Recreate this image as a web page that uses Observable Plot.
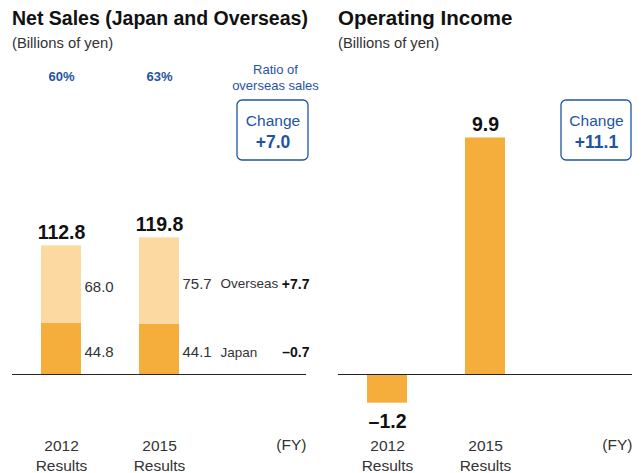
<!DOCTYPE html>
<html><head><meta charset="utf-8">
<script src="https://cdn.jsdelivr.net/npm/d3@7"></script>
<script src="https://cdn.jsdelivr.net/npm/@observablehq/plot@0.6"></script>
<style>
body{margin:0;background:#fff;font-family:"Liberation Sans",Arial,sans-serif;}
#wrap{position:relative;width:643px;height:473px;overflow:hidden}
.title{position:absolute;top:8px;font-size:19.5px;line-height:20px;font-weight:bold;color:#111;white-space:nowrap}
.sub{position:absolute;top:36px;font-size:14.8px;line-height:14px;color:#333;white-space:nowrap}
#left,#right{position:absolute;top:55px}
#left{left:0}#right{left:326px}
</style></head><body>
<div id="wrap">
<div class="title" style="left:12px">Net Sales (Japan and Overseas)</div>
<div class="sub" style="left:12px">(Billions of yen)</div>
<div class="title" style="left:338px;font-size:20.5px">Operating Income</div>
<div class="sub" style="left:338px">(Billions of yen)</div>
<div id="left"></div><div id="right"></div>
</div>
<script>
// ---- data ----
const years = ["2012", "2015"];
const yearLabels = ["2012\nResults", "2015\nResults"];
const segmentNames = ["Japan", "Overseas"];
const japanSales = [44.8, 44.1];
const overseasSales = [68.0, 75.7];
const totalSales = [112.8, 119.8];
const overseasRatio = [60, 63];
const segmentChange = [-0.7, 7.7];
const salesChange = 7.0;
const operatingIncome = [-1.2, 9.9];
const incomeChange = 11.1;

// ---- helpers ----
const CH = "change";
const blue = "#1f54a3";
const font = '"Liberation Sans", Arial, sans-serif';
const fmt = v => (v < 0 ? "\u2013" : "") + Math.abs(v).toFixed(1);
const signed = v => (v < 0 ? "\u2013" : "+") + Math.abs(v).toFixed(1);
const xScale = {domain: [...years, CH], paddingInner: 0.59, paddingOuter: 0.295, align: 0.5, axis: null};
const xAxis = Plot.axisX({ticks: years, tickSize: 0, tickPadding: 13, label: null,
  tickFormat: d => yearLabels[years.indexOf(d)], fontSize: 15.5, lineHeight: 1.3, fill: "#333"});

const salesRows = [];
years.forEach((y, i) => {
  salesRows.push({year: y, segment: "Japan", value: japanSales[i]});
  salesRows.push({year: y, segment: "Overseas", value: overseasSales[i]});
});
const totals = years.map((y, i) => ({year: y, total: totalSales[i], ratio: overseasRatio[i]}));
const latestRows = segmentNames.map((s, i) => ({segment: s, value: i === 0 ? japanSales[1] : overseasSales[1], change: segmentChange[i]}));
const incomeRows = years.map((y, i) => ({year: y, value: operatingIncome[i]}));

const left = Plot.plot({
  width: 321, height: 418, marginTop: 0, marginBottom: 50, marginLeft: 12, marginRight: 15,
  style: {fontFamily: font, background: "transparent", overflow: "visible"},
  x: xScale,
  y: {domain: [-43, 279.8], axis: null},
  color: {domain: segmentNames, range: ["#F5AD3C", "#FBD9A1"]},
  marks: [
    Plot.barY(salesRows, {x: "year", y: "value", fill: "segment"}),
    Plot.ruleY([0], {stroke: "#222", strokeWidth: 1}),
    Plot.text(salesRows, Plot.stackY({x: "year", y: "value", z: "segment", text: d => fmt(d.value),
      textAnchor: "start", dx: 23, dy: 3, fontSize: 15, fill: "#333"})),
    Plot.text(totals, {x: "year", y: "total", text: d => fmt(d.total), lineAnchor: "bottom", dy: -7,
      fontSize: 19.5, fontWeight: "bold", fill: "#111"}),
    Plot.text(totals, {x: "year", frameAnchor: "top", lineAnchor: "middle", text: d => d.ratio + "%", dy: 21,
      fontSize: 13, fontWeight: "bold", fill: blue}),
    Plot.text(["Ratio of\noverseas sales"], {x: () => CH, frameAnchor: "top", lineAnchor: "middle", dx: 18, dy: 21,
      lineHeight: 1.23, fontSize: 13, fill: blue}),
    Plot.cell([CH], {x: d => d, fill: "none", stroke: blue, strokeWidth: 1.3, rx: 5,
      insetTop: 45, insetBottom: 263, insetLeft: 0, insetRight: -31}),
    Plot.text(["Change"], {x: () => CH, frameAnchor: "top", lineAnchor: "middle", dx: 15.5, dy: 66, fontSize: 15.5, fill: blue}),
    Plot.text([salesChange], {x: () => CH, frameAnchor: "top", lineAnchor: "middle", dx: 15.5, dy: 87, text: d => signed(d),
      fontSize: 17.5, fontWeight: "bold", fill: blue}),
    Plot.text(latestRows, Plot.stackY({x: () => CH, y: "value", z: "segment", text: "segment",
      textAnchor: "start", dx: -37, dy: 3, fontSize: 13.5, fill: "#333"})),
    Plot.text(latestRows, Plot.stackY({x: () => CH, y: "value", z: "segment", text: d => signed(d.change),
      textAnchor: "end", dx: 52, dy: 3, fontSize: 14, fontWeight: "bold", fill: "#111"})),
    Plot.text(["(FY)"], {frameAnchor: "bottom-right", textAnchor: "end", lineAnchor: "middle", dy: 22,
      fontSize: 15.5, fill: "#333"}),
    xAxis
  ]
});
document.getElementById("left").append(left);

const right = Plot.plot({
  width: 317, height: 418, marginTop: 0, marginBottom: 50, marginLeft: 12, marginRight: 11,
  style: {fontFamily: font, background: "transparent", overflow: "visible"},
  x: xScale,
  y: {domain: [-2.05, 13.35], axis: null},
  marks: [
    Plot.barY(incomeRows, {x: "year", y: "value", fill: "#F5AD3C"}),
    Plot.ruleY([0], {stroke: "#222", strokeWidth: 1}),
    Plot.text(incomeRows.filter(d => d.value >= 0), {x: "year", y: "value", text: d => fmt(d.value),
      lineAnchor: "bottom", dy: -7, fontSize: 19.5, fontWeight: "bold", fill: "#111"}),
    Plot.text(incomeRows.filter(d => d.value < 0), {x: "year", y: "value", text: d => fmt(d.value),
      lineAnchor: "top", dy: 11, fontSize: 19.5, fontWeight: "bold", fill: "#111"}),
    Plot.cell([CH], {x: d => d, fill: "none", stroke: blue, strokeWidth: 1.3, rx: 5,
      insetTop: 45, insetBottom: 263, insetLeft: -2, insetRight: -28}),
    Plot.text(["Change"], {x: () => CH, frameAnchor: "top", lineAnchor: "middle", dx: 13, dy: 66, fontSize: 15.5, fill: blue}),
    Plot.text([incomeChange], {x: () => CH, frameAnchor: "top", lineAnchor: "middle", dx: 13, dy: 87, text: d => signed(d),
      fontSize: 17.5, fontWeight: "bold", fill: blue}),
    Plot.text(["(FY)"], {frameAnchor: "bottom-right", textAnchor: "end", lineAnchor: "middle", dy: 22,
      fontSize: 15.5, fill: "#333"}),
    xAxis
  ]
});
document.getElementById("right").append(right);
</script>
</body></html>
